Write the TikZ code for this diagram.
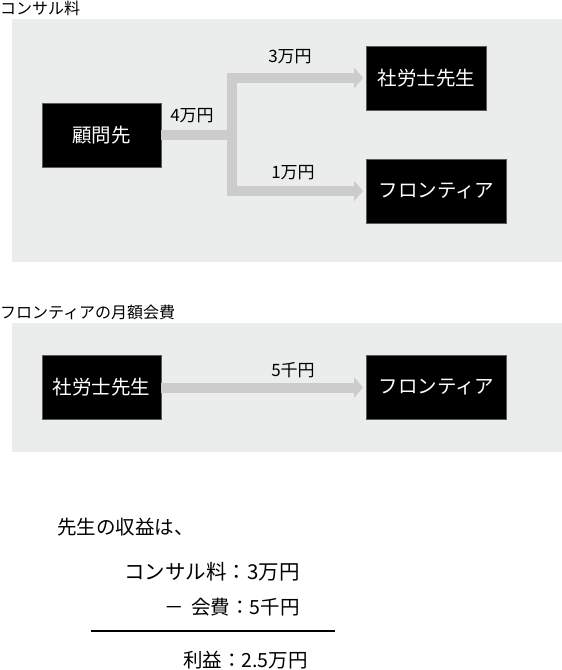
\documentclass[tikz,border=0pt]{standalone}
\usepackage{fontspec}
\setmainfont{Noto Sans CJK JP}
\usetikzlibrary{arrows.meta}
\definecolor{panel}{HTML}{EBEDED}
\definecolor{flowgray}{HTML}{CCCCCC}
\definecolor{boxedge}{HTML}{5A5A5A}
\begin{document}
\begin{tikzpicture}[x=1pt,y=-1pt,
  box/.style={fill=black,draw=boxedge,line width=0.8pt,text=white,
    font=\fontsize{19.5}{22}\selectfont,minimum height=64pt,inner sep=0pt},
  flow/.style={draw=flowgray,line width=10pt},
  flowarrow/.style={flow,-{Triangle[length=9pt,width=20pt]},shorten >=3pt},
  amount/.style={font=\fontsize{17}{20}\selectfont,inner sep=0pt},
  heading/.style={font=\fontsize{16}{18}\selectfont,anchor=west,inner sep=0pt},
  result/.style={font=\fontsize{19.5}{22}\selectfont,inner sep=0pt}]
\useasboundingbox (0,0) rectangle (562,670);

% panels
\fill[panel] (12,19) rectangle (562,262);
\fill[panel] (12,323) rectangle (562,452);

% headings
\node[heading] (h1) at (0,8) {コンサル料};
\node[heading] (h2) at (0,312) {フロンティアの月額会費};

% panel 1
\node[box,minimum width=119pt] (client) at (101.5,135) {顧問先};
\node[box,minimum width=120pt] (sr1) at (426.5,78) {社労士先生};
\node[box,minimum width=140pt] (fr1) at (436.5,191) {フロンティア};
\coordinate (split) at (232,135);
\coordinate (topturn) at (232,78);
\coordinate (botturn) at (232,191);

\draw[flow] (client.east) -- (split);
\draw[flowarrow] (botturn) -- (topturn) -- (sr1.west);
\draw[flowarrow] (topturn) -- (botturn) -- (fr1.west);

\node[amount] (a3) at (290,57) {3万円};
\node[amount] (a4) at (192,116) {4万円};
\node[amount] (a1) at (293,173) {1万円};

% panel 2
\node[box,minimum width=119pt] (sr2) at (101.5,387.5) {社労士先生};
\node[box,minimum width=140pt] (fr2) at (436.5,387.5) {フロンティア};
\draw[flowarrow] (sr2.east) -- (fr2.west);
\node[amount] (a5) at (293,370) {5千円};

% calculation
\node[result,anchor=west] (intro) at (57,527) {先生の収益は、};
\node[result,anchor=east,font=\fontsize{20.5}{22}\selectfont] (l1) at (300,572) {コンサル料：3万円};
\node[result,anchor=east] (l2) at (300,607) {－\hspace{0.4em}会費：5千円};
\coordinate (ruleL) at (91,631);
\coordinate (ruleR) at (335,631);
\draw[line width=2pt] (ruleL) -- (ruleR);
\node[result,anchor=east] (l3) at (308,660) {利益：2.5万円};
\end{tikzpicture}
\end{document}
